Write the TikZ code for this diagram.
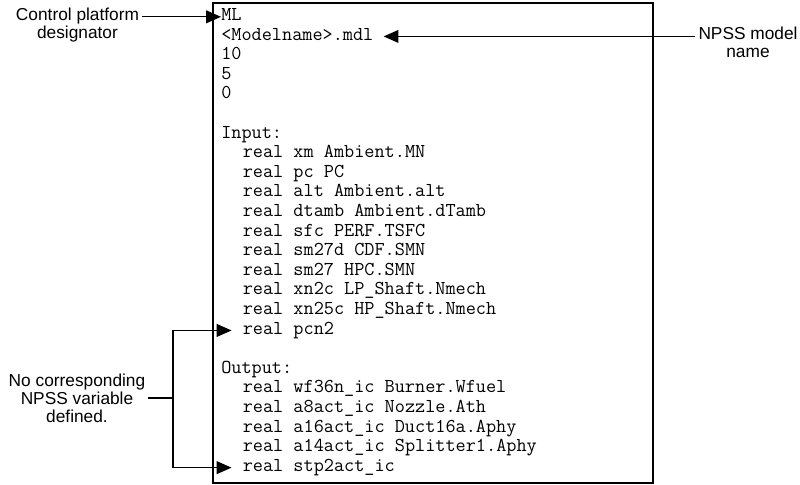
\documentclass[tikz,border=0pt]{standalone}
\usepackage{fontspec}
\setmainfont{Liberation Sans}
\usetikzlibrary{arrows.meta, positioning}

\begin{document}
\begin{tikzpicture}[x=0.025cm, y=0.025cm,
    codeline/.style={anchor=base west, inner sep=0pt, font=\ttfamily\fontsize{14}{15}\selectfont, text height=0.62em, text depth=0.1em},
    callout/.style={align=center, inner sep=2pt, font=\fontsize{12.3}{12.8}\selectfont},
    conn/.style={line width=0.9pt},
    arr/.style={conn, -{Triangle[length=0.37cm, width=0.32cm]}}]
  \useasboundingbox (0,0) rectangle (800,485);
  % listing frame
  \draw[line width=1.8pt] (213,2) rectangle (653,482);
  % listing lines
  \foreach \ind/\txt [count=\i] in {0/ML, 0/<Modelname>.mdl, 0/10, 0/5, 0/0, 0/,
      0/Input:, 1/real xm Ambient.MN, 1/real pc PC, 1/real alt Ambient.alt,
      1/real dtamb Ambient.dTamb, 1/real sfc PERF.TSFC, 1/real sm27d CDF.SMN,
      1/real sm27 HPC.SMN, 1/real xn2c LP\_Shaft.Nmech, 1/real xn25c HP\_Shaft.Nmech,
      1/real pcn2, 0/, 0/Output:, 1/real wf36n\_ic Burner.Wfuel,
      1/real a8act\_ic Nozzle.Ath, 1/real a16act\_ic Duct16a.Aphy,
      1/real a14act\_ic Splitter1.Aphy, 1/real stp2act\_ic}
    \node[codeline] (line\i) at (221+21.5*\ind, 484.1-19.6*\i) {\txt};
  % callouts
  \node[callout] (ctrl) at (77.5,460) {Control platform\\designator};
  \node[callout] (npss) at (748,443) {NPSS model\\name};
  \node[callout] (note) at (77,87) {No corresponding\\NPSS variable\\defined.};
  \draw[arr] (ctrl.east |- line1.west) -- (line1.west);
  \draw[arr] (npss.west |- line2.east) -- ([xshift=0.25cm]line2.east);
  % bracket to the undefined variables
  \coordinate (fork) at (173,87);
  \draw[conn] (note.east) -- (fork);
  \draw[arr] (fork) |- ([xshift=-0.275cm]line17.west);
  \draw[arr] (fork) |- ([xshift=-0.275cm]line24.west);
\end{tikzpicture}
\end{document}
